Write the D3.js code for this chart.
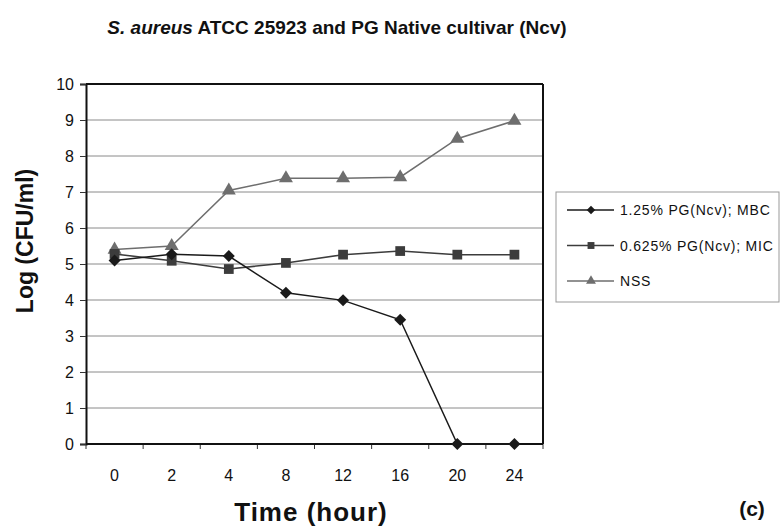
<!DOCTYPE html>
<html><head><meta charset="utf-8">
<script src="https://cdn.jsdelivr.net/npm/d3@7"></script>
<style>body{margin:0;background:#fff}svg{display:block}</style>
</head><body>
<script>
const categories = ["0","2","4","8","12","16","20","24"];
const mbc = [5.1, 5.27, 5.22, 4.2, 3.99, 3.45, 0, 0];
const mic = [5.28, 5.09, 4.86, 5.03, 5.26, 5.36, 5.26, 5.26];
const nss = [5.4, 5.5, 7.04, 7.38, 7.38, 7.41, 8.48, 8.98];
const seriesNames = ["1.25% PG(Ncv); MBC", "0.625% PG(Ncv); MIC", "NSS"];
const yTicks = [0,1,2,3,4,5,6,7,8,9,10];

const W = 781, H = 528;
const m = {l: 86, r: 543, t: 84, b: 444};
const svg = d3.select("body").append("svg").attr("width", W).attr("height", H);
const font = "'Liberation Sans', Arial, sans-serif";

const x = d3.scaleBand().domain(categories).range([m.l, m.r]).padding(0);
const y = d3.scaleLinear().domain([0, 10]).range([m.b, m.t]);

// gridlines
svg.append("g").selectAll("line").data(yTicks.filter(d => d > 0 && d < 10)).join("line")
  .attr("x1", m.l).attr("x2", m.r).attr("y1", d => y(d)).attr("y2", d => y(d))
  .attr("stroke", "#8a8a8a").attr("stroke-width", 1);

// y axis
const ya = svg.append("g").attr("transform", `translate(${m.l},0)`)
  .call(d3.axisLeft(y).tickValues(yTicks).tickSize(6).tickPadding(6));
ya.select(".domain").attr("stroke", "#111").attr("stroke-width", 2);
ya.selectAll(".tick line").attr("stroke", "#333").attr("stroke-width", 1);
ya.selectAll("text").attr("font-family", font).attr("font-size", 16).attr("fill", "#111");

// x axis
const xa = svg.append("g").attr("transform", `translate(0,${m.b})`)
  .call(d3.axisBottom(x).tickSize(0).tickPadding(26));
xa.select(".domain").remove();
xa.selectAll("text").attr("font-family", font).attr("font-size", 16).attr("fill", "#111");
const bounds = categories.map(c => x(c)).concat([m.r]);
svg.append("g").selectAll("line").data(bounds).join("line")
  .attr("x1", d => d).attr("x2", d => d).attr("y1", m.b).attr("y2", m.b + 5)
  .attr("stroke", "#333").attr("stroke-width", 1);

// plot border
svg.append("line").attr("x1", m.l).attr("x2", m.r).attr("y1", m.b).attr("y2", m.b).attr("stroke", "#111").attr("stroke-width", 2);
svg.append("line").attr("x1", m.l).attr("x2", m.r).attr("y1", m.t).attr("y2", m.t).attr("stroke", "#111").attr("stroke-width", 2);
svg.append("line").attr("x1", m.r).attr("x2", m.r).attr("y1", m.t).attr("y2", m.b).attr("stroke", "#111").attr("stroke-width", 2);

const series = [
  {name: seriesNames[0], vals: mbc, color: "#1a1a1a", sym: d3.symbolSquare, rot: 45, size: 72, lw: 1.5},
  {name: seriesNames[1], vals: mic, color: "#3c3c3c", sym: d3.symbolSquare, rot: 0, size: 95, lw: 1.5},
  {name: seriesNames[2], vals: nss, color: "#6e6e6e", sym: d3.symbolTriangle, rot: 0, size: 85, lw: 1.5}
];
const cx = c => x(c) + x.bandwidth() / 2;
const line = d3.line().x(d => cx(d.c)).y(d => y(d.v));

series.slice().reverse().forEach(s => {
  const pts = categories.map((c, i) => ({c, v: s.vals[i]}));
  svg.append("path").datum(pts).attr("d", line).attr("fill", "none")
    .attr("stroke", s.color).attr("stroke-width", s.lw);
  svg.append("g").selectAll("path").data(pts).join("path")
    .attr("d", d3.symbol().type(s.sym).size(s.size))
    .attr("transform", d => `translate(${cx(d.c)},${y(d.v)}) rotate(${s.rot})`)
    .attr("fill", s.color);
});

// title
const title = svg.append("text").attr("x", 337).attr("y", 34).attr("text-anchor", "middle")
  .attr("font-family", font).attr("font-size", 19).attr("font-weight", "bold").attr("fill", "#111");
title.append("tspan").attr("font-style", "italic").text("S. aureus");
title.append("tspan").text(" ATCC 25923 and PG Native cultivar (Ncv)");

// axis titles
svg.append("text").attr("transform", "translate(33,241) rotate(-90)").attr("text-anchor", "middle")
  .attr("font-family", font).attr("font-size", 23).attr("font-weight", "bold").attr("fill", "#111")
  .text("Log (CFU/ml)");
svg.append("text").attr("x", 311).attr("y", 521).attr("text-anchor", "middle")
  .attr("font-family", font).attr("font-size", 26).attr("font-weight", "bold").attr("fill", "#111")
  .attr("letter-spacing", 1)
  .text("Time (hour)");
svg.append("text").attr("x", 752).attr("y", 516).attr("text-anchor", "middle")
  .attr("font-family", font).attr("font-size", 21).attr("font-weight", "bold").attr("fill", "#111")
  .text("(c)");

// legend
const lg = svg.append("g");
lg.append("rect").attr("x", 556).attr("y", 192).attr("width", 223).attr("height", 110)
  .attr("fill", "#fff").attr("stroke", "#999").attr("stroke-width", 1);
const ly = d3.scalePoint().domain(seriesNames).range([210, 281]);
series.forEach(s => {
  const yy = ly(s.name);
  lg.append("line").attr("x1", 567).attr("x2", 614).attr("y1", yy).attr("y2", yy)
    .attr("stroke", s.color).attr("stroke-width", 1.5);
  lg.append("path").attr("d", d3.symbol().type(s.sym).size(s.size * 0.5))
    .attr("transform", `translate(591,${yy}) rotate(${s.rot})`).attr("fill", s.color);
  lg.append("text").attr("x", 620).attr("y", yy + 5).attr("font-family", font)
    .attr("font-size", 14).attr("letter-spacing", 0.8).attr("fill", "#111").text(s.name);
});
</script>
</body></html>
